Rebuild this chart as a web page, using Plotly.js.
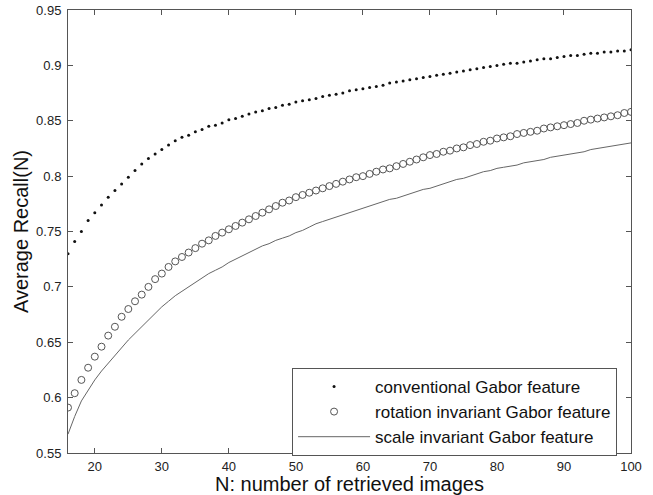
<!DOCTYPE html>
<html>
<head>
<meta charset="utf-8">
<script src="https://cdn.plot.ly/plotly-3.0.1.min.js"></script>
<style>
html,body{margin:0;padding:0;background:#fff;}
#chart{width:653px;height:495px;}
</style>
</head>
<body>
<div id="chart"></div>
<script>
// N = 16 .. 100
var N = [];
for (var n = 16; n <= 100; n++) N.push(n);

var conventional = [
0.730,0.741,0.750,0.760,0.767,0.774,0.781,0.787,0.793,0.799,
0.805,0.811,0.816,0.820,0.824,0.828,0.832,0.835,0.837,0.840,
0.842,0.845,0.846,0.848,0.851,0.852,0.854,0.856,0.858,0.859,
0.861,0.862,0.864,0.865,0.867,0.868,0.869,0.870,0.872,0.873,
0.874,0.875,0.877,0.878,0.879,0.880,0.881,0.882,0.884,0.885,
0.886,0.887,0.888,0.889,0.890,0.891,0.892,0.893,0.894,0.895,
0.896,0.897,0.898,0.899,0.900,0.901,0.902,0.902,0.903,0.904,
0.905,0.906,0.906,0.907,0.908,0.909,0.909,0.910,0.911,0.911,
0.912,0.912,0.913,0.913,0.914];

var rotation = [
0.591,0.604,0.616,0.627,0.637,0.646,0.656,0.664,0.673,0.680,
0.687,0.693,0.700,0.707,0.712,0.718,0.723,0.727,0.731,0.735,
0.739,0.742,0.746,0.749,0.752,0.755,0.758,0.761,0.764,0.767,
0.770,0.773,0.776,0.778,0.781,0.783,0.785,0.787,0.789,0.791,
0.793,0.795,0.797,0.799,0.800,0.802,0.804,0.806,0.807,0.809,
0.811,0.813,0.815,0.817,0.819,0.820,0.822,0.823,0.825,0.826,
0.828,0.829,0.831,0.832,0.834,0.835,0.836,0.838,0.839,0.840,
0.841,0.843,0.844,0.845,0.846,0.847,0.848,0.850,0.851,0.852,
0.853,0.854,0.855,0.857,0.858];

var scale = [
0.567,0.583,0.597,0.607,0.616,0.624,0.631,0.638,0.645,0.652,
0.658,0.664,0.670,0.676,0.682,0.687,0.692,0.696,0.700,0.704,
0.708,0.712,0.715,0.718,0.722,0.725,0.728,0.731,0.734,0.737,
0.739,0.742,0.744,0.746,0.749,0.751,0.754,0.757,0.759,0.761,
0.763,0.765,0.767,0.769,0.771,0.773,0.775,0.777,0.779,0.780,
0.782,0.784,0.786,0.788,0.789,0.791,0.793,0.795,0.797,0.798,
0.800,0.802,0.804,0.805,0.807,0.808,0.809,0.810,0.812,0.813,
0.814,0.815,0.817,0.818,0.819,0.820,0.821,0.822,0.824,0.825,
0.826,0.827,0.828,0.829,0.830];

var xTickVals = [20,30,40,50,60,70,80,90,100];
var yTickVals = [0.55,0.6,0.65,0.7,0.75,0.8,0.85,0.9,0.95];
var yTickText = ["0.55","0.6","0.65","0.7","0.75","0.8","0.85","0.9","0.95"];

var FONT = "Liberation Sans, Arial, Helvetica, sans-serif";

var traces = [
  {x:N, y:conventional, mode:"markers", type:"scatter", name:"conventional Gabor feature",
   marker:{symbol:"circle", size:3, color:"#111"}},
  {x:N, y:rotation, mode:"markers", type:"scatter", name:"rotation invariant Gabor feature",
   marker:{symbol:"circle-open", size:7, color:"#555", line:{width:1, color:"#555"}}},
  {x:N, y:scale, mode:"lines", type:"scatter", name:"scale invariant Gabor feature",
   line:{color:"#666", width:1}}
];

var axisCommon = {
  showgrid:false, zeroline:false, showline:true, linecolor:"#555", linewidth:1,
  mirror:"allticks", ticks:"inside", ticklen:5, tickcolor:"#555", tickwidth:1,
  automargin:false,
  tickfont:{family:FONT, size:13, color:"#222"}
};

var layout = {
  width:653, height:495,
  margin:{l:68, r:22, t:10, b:42, pad:0},
  paper_bgcolor:"#fff", plot_bgcolor:"#fff",
  showlegend:true,
  xaxis:Object.assign({}, axisCommon, {
    range:[16,100], tickvals:xTickVals, ticklabelstandoff:1,
    title:{text:"N: number of retrieved images", font:{family:FONT, size:20, color:"#111"}, standoff:0}
  }),
  yaxis:Object.assign({}, axisCommon, {
    range:[0.55,0.95], tickvals:yTickVals, ticktext:yTickText, ticklabelstandoff:3,
    title:{text:"Average Recall(N)", font:{family:FONT, size:20, color:"#111"}, standoff:2}
  }),
  legend:{
    x:0.398, y:0.192, xanchor:"left", yanchor:"top",
    bgcolor:"#fff", bordercolor:"#555", borderwidth:1,
    font:{family:FONT, size:17, color:"#111"},
    itemwidth:72, tracegroupgap:0
  }
};

Plotly.newPlot("chart", traces, layout, {displayModeBar:false, staticPlot:true});
</script>
</body>
</html>
